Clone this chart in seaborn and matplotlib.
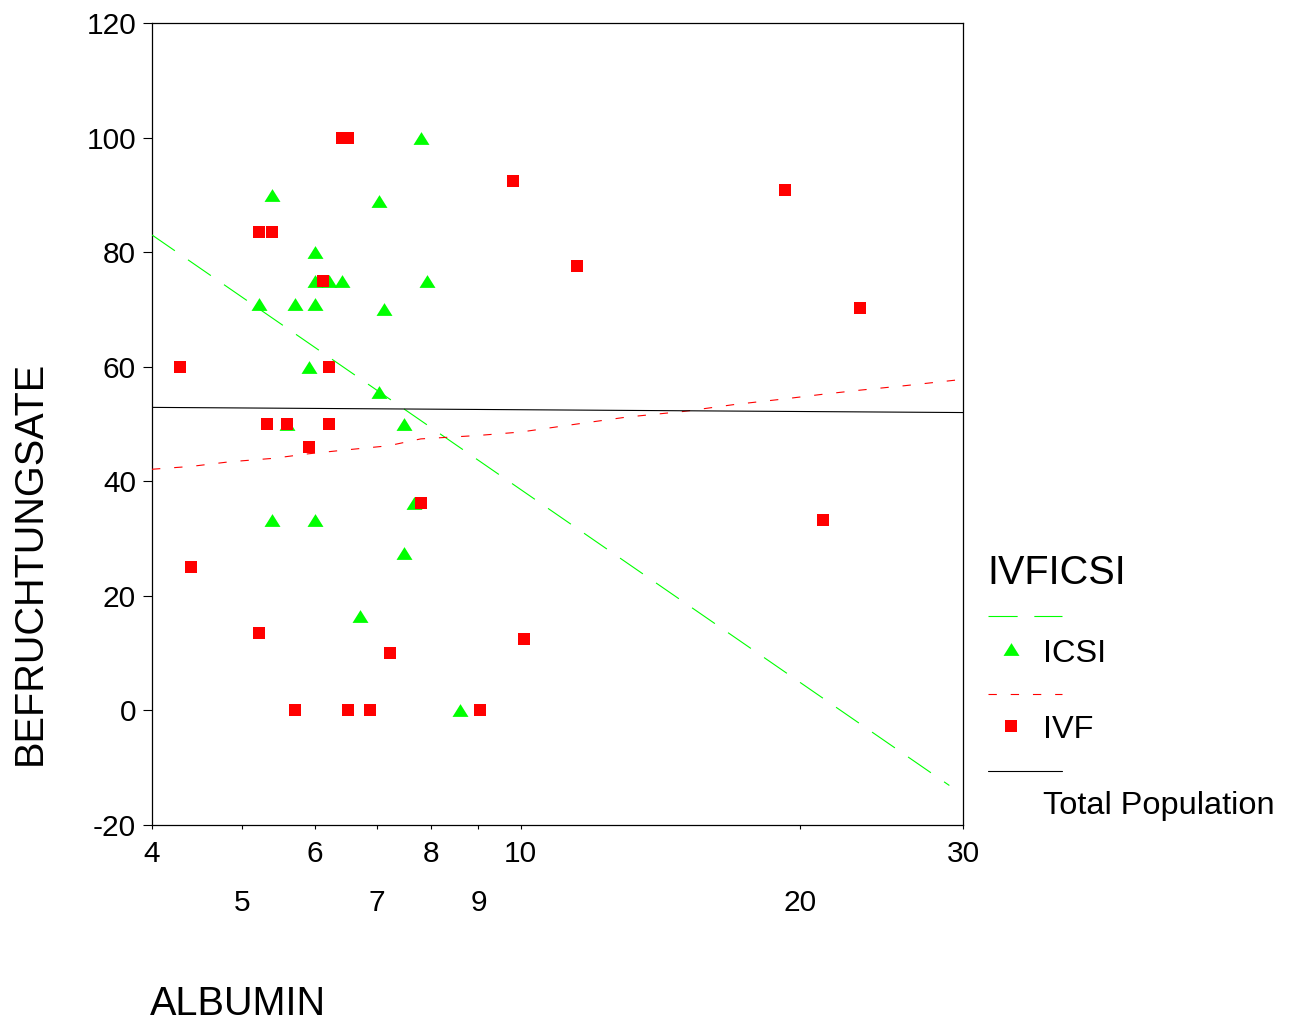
import numpy as np
import pandas as pd
import matplotlib
matplotlib.use("Agg")
import matplotlib.pyplot as plt
from matplotlib.lines import Line2D
from matplotlib.ticker import FixedLocator, FixedFormatter
import seaborn as sns

# ICSI group (green triangles)
icsi_albumin = [7.80, 5.39, 7.03, 6.00, 5.99, 6.21, 6.42, 7.92, 5.22, 5.71, 5.99,
                7.12, 5.91, 7.03, 5.59, 7.48, 7.66, 5.39, 5.99, 7.48, 6.70, 8.60]
icsi_rate = [100, 90, 89, 80, 75, 75, 75, 75, 71, 71, 71,
             70, 60, 55.6, 50, 50, 36.2, 33.3, 33.3, 27.4, 16.5, 0]

# IVF group (red squares)
ivf_albumin = [4.29, 4.41, 5.22, 5.39, 5.22, 5.32, 5.59, 5.71, 5.91, 6.12, 6.21, 6.21, 6.41,
               6.51, 6.51, 6.88, 7.23, 7.80, 9.04, 9.81, 10.08, 11.5, 19.3, 21.2, 23.2]
ivf_rate = [60, 25, 83.5, 83.5, 13.5, 50, 50, 0, 46, 75, 60, 50, 100,
            100, 0, 0, 10, 36.2, 0, 92.4, 12.5, 77.6, 90.9, 33.3, 70.3]

# fit lines
icsi_fit_x = [4.0, 29.0]
icsi_fit_y = [83.0, -13.1]
ivf_fit_x = [4.0, 4.41, 4.85, 5.4, 5.9, 6.5, 7.2, 7.8, 9.0, 10.0, 11.5, 13.0,
             15.0, 17.0, 19.3, 21.2, 23.2, 26.0, 30.0]
ivf_fit_y = [42.1, 42.6, 43.4, 44.0, 44.8, 45.5, 46.2, 47.4, 48.0, 48.6, 50.0, 51.2,
             52.2, 53.4, 54.4, 55.2, 55.9, 56.7, 57.8]
total_fit_x = [4.0, 30.0]
total_fit_y = [52.9, 52.0]

x_major = [4, 6, 8, 10, 30]
x_minor = [5, 7, 9, 20]
y_ticks = [-20, 0, 20, 40, 60, 80, 100, 120]

icsi = pd.DataFrame({"ALBUMIN": icsi_albumin, "BEFRUCHTUNGSATE": icsi_rate})
ivf = pd.DataFrame({"ALBUMIN": ivf_albumin, "BEFRUCHTUNGSATE": ivf_rate})

sns.set_style("ticks")
plt.rcParams["font.family"] = ["Liberation Sans", "DejaVu Sans"]
plt.rcParams["lines.scale_dashes"] = False
plt.rcParams["text.color"] = "black"
plt.rcParams["xtick.color"] = "black"
plt.rcParams["ytick.color"] = "black"
plt.rcParams["axes.labelcolor"] = "black"

GREEN = "#00ff00"
RED = "#ff0000"
TRI = [(-1, -0.8), (1, -0.8), (0, 0.8), (-1, -0.8)]
GREEN_DASH = (0, (20, 11.5))
RED_DASH = (0, (6, 10))

W, H = 1293, 1024
fig = plt.figure(figsize=(W / 100, H / 100), dpi=100)
ax = fig.add_axes([152 / W, 1 - 825 / H, (963 - 152) / W, (825 - 23) / H])

sns.scatterplot(data=icsi, x="ALBUMIN", y="BEFRUCHTUNGSATE", ax=ax, color=GREEN,
                marker=TRI, s=132, linewidth=0, zorder=3)
sns.scatterplot(data=ivf, x="ALBUMIN", y="BEFRUCHTUNGSATE", ax=ax, color=RED,
                marker="s", s=69, linewidth=0, zorder=4)

sns.lineplot(x=icsi_fit_x, y=icsi_fit_y, ax=ax, color=GREEN, linewidth=0.8,
             linestyle=GREEN_DASH, estimator=None, zorder=5)
sns.lineplot(x=ivf_fit_x, y=ivf_fit_y, ax=ax, color=RED, linewidth=0.8,
             linestyle=RED_DASH, estimator=None, zorder=5)
sns.lineplot(x=total_fit_x, y=total_fit_y, ax=ax, color="black", linewidth=0.8,
             estimator=None, zorder=5)

ax.set_xscale("log")
ax.set_xlim(4, 30)
ax.set_ylim(-20, 120)
ax.xaxis.set_major_locator(FixedLocator(x_major))
ax.xaxis.set_major_formatter(FixedFormatter([str(v) for v in x_major]))
ax.xaxis.set_minor_locator(FixedLocator(x_minor))
ax.xaxis.set_minor_formatter(FixedFormatter([str(v) for v in x_minor]))
ax.set_yticks(y_ticks)
ax.set_yticklabels([str(v) for v in y_ticks])

ax.tick_params(axis="x", which="major", length=3, width=0.8, pad=7.5, labelsize=21.5,
               colors="black")
ax.tick_params(axis="x", which="minor", length=3, width=0.8, pad=43, labelsize=21.5,
               colors="black")
ax.tick_params(axis="y", length=6.5, width=0.8, pad=5, labelsize=21.5, colors="black")
for sp in ax.spines.values():
    sp.set_linewidth(0.9)
    sp.set_color("black")
ax.set_xlabel("")
ax.set_ylabel("")

fig.text(30 / W, 1 - 563 / H, "BEFRUCHTUNGSATE", rotation=90, ha="center",
         va="center", fontsize=28.5)
fig.text(150 / W, 1 - 1004 / H, "ALBUMIN", ha="left", va="center", fontsize=28.5)

# legend block on the right
def fx(p):
    return p / W

def fy(p):
    return 1 - p / H

fig.text(fx(987), fy(573), "IVFICSI", ha="left", va="center", fontsize=28.5)
fig.add_artist(Line2D([fx(988), fx(1062)], [fy(616), fy(616)], color=GREEN,
                      linewidth=0.8, linestyle=(0, (21, 12)), transform=fig.transFigure))
fig.add_artist(Line2D([fx(1011)], [fy(649)], marker=TRI, markersize=11.5, color=GREEN,
                      markeredgewidth=0, linestyle="none", transform=fig.transFigure))
fig.text(fx(1043), fy(654), "ICSI", ha="left", va="center", fontsize=23.4)
fig.add_artist(Line2D([fx(988), fx(1062)], [fy(694), fy(694)], color=RED,
                      linewidth=0.8, linestyle=RED_DASH, transform=fig.transFigure))
fig.add_artist(Line2D([fx(1011)], [fy(726)], marker="s", markersize=8.3, color=RED,
                      markeredgewidth=0, linestyle="none", transform=fig.transFigure))
fig.text(fx(1043), fy(730), "IVF", ha="left", va="center", fontsize=23.4)
fig.add_artist(Line2D([fx(988), fx(1062)], [fy(771), fy(771)], color="black",
                      linewidth=0.8, transform=fig.transFigure))
fig.text(fx(1043), fy(806), "Total Population", ha="left", va="center", fontsize=23.4)

fig.savefig("out.png", dpi=100)
